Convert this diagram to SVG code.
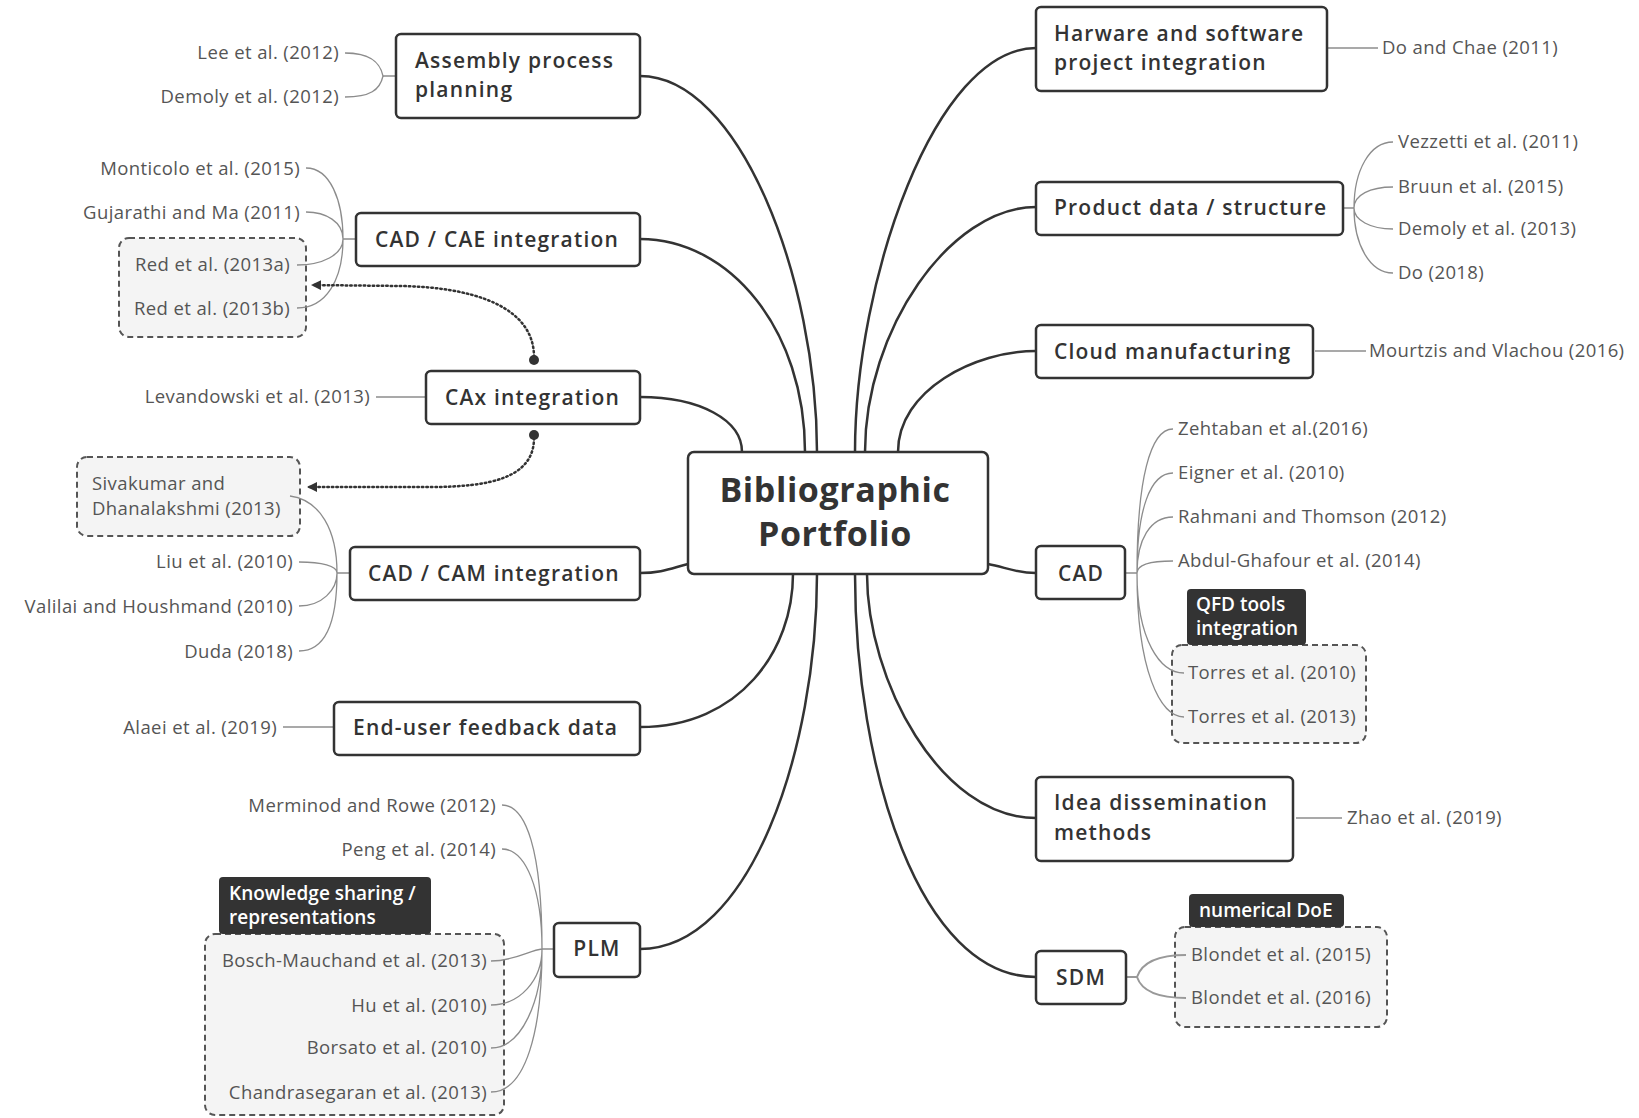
<svg xmlns="http://www.w3.org/2000/svg" width="1639" height="1118" viewBox="0 0 1639 1118">
<style>
.node rect{fill:#fff;stroke:#333;stroke-width:2.5}
.nt{font-family:"Open Sans","Liberation Sans",sans-serif;font-weight:600;font-size:21px;fill:#333;letter-spacing:1.2px}
.ct{font-family:"Open Sans","Liberation Sans",sans-serif;font-weight:700;font-size:34px;fill:#333;text-anchor:middle;letter-spacing:0.6px}
.ref{font-family:"Open Sans","Liberation Sans",sans-serif;font-size:18.5px;fill:#555;letter-spacing:0.4px}
.end{text-anchor:end}
.mid{text-anchor:middle}
.lbl{fill:#333}
.lt{font-family:"Open Sans","Liberation Sans",sans-serif;font-weight:600;font-size:19px;fill:#fff}
.dash{fill:#f4f4f4;stroke:#555;stroke-width:2;stroke-dasharray:6 4}
.main{fill:none;stroke:#333;stroke-width:2.5}
.sub{fill:none;stroke:#8c8c8c;stroke-width:1.3}
.sub2{fill:none;stroke:#999;stroke-width:2}
.dot{fill:none;stroke:#333;stroke-width:2.5;stroke-dasharray:1.5 3;stroke-linecap:round}
</style>
<defs>
<marker id="arr" viewBox="0 0 10 10" refX="9" refY="5" markerWidth="10" markerHeight="10" markerUnits="userSpaceOnUse" orient="auto">
<path d="M0,0 L10,5 L0,10 z" fill="#333"/>
</marker>
</defs>
<rect width="1639" height="1118" fill="#fff"/>

<g id="grp-red"><rect class="dash" x="119" y="238" width="187" height="99" rx="10"/></g>
<g id="grp-siva"><rect class="dash" x="77" y="457" width="223" height="79" rx="10"/></g>
<g id="grp-plm"><rect class="dash" x="205" y="934" width="299" height="181" rx="10"/>
<rect class="lbl" x="219" y="877" width="212" height="57" rx="4"/>
<text class="lt" x="229" y="900">Knowledge sharing /</text>
<text class="lt" x="229" y="924">representations</text></g>
<g id="grp-qfd"><rect class="dash" x="1172" y="645" width="194" height="98" rx="10"/>
<rect class="lbl" x="1187" y="589" width="119" height="56" rx="4"/>
<text class="lt" x="1196" y="611">QFD tools</text>
<text class="lt" x="1196" y="635">integration</text></g>
<g id="grp-doe"><rect class="dash" x="1175" y="927" width="212" height="100" rx="10"/>
<rect class="lbl" x="1189" y="894" width="155" height="33" rx="4"/>
<text class="lt" x="1199" y="917">numerical DoE</text></g>

<g id="connectors">
<path class="main" d="M640,76 C740,76 817,280 817,452"/>
<path class="main" d="M640,239 C730,239 805,330 805,452"/>
<path class="main" d="M640,397 C700,397 742,420 742,452"/>
<path class="main" d="M640,573 C662,573 672,568 688,564"/>
<path class="main" d="M640,727 C740,727 793,650 793,574"/>
<path class="main" d="M640,949 C750,949 817,750 817,574"/>
<path class="main" d="M1036,48 C935,48 855,280 855,452"/>
<path class="main" d="M1036,207 C950,207 865,330 865,452"/>
<path class="main" d="M1036,351 C975,351 898,390 898,452"/>
<path class="main" d="M988,564 C1005,567 1015,573 1036,573"/>
<path class="main" d="M1036,818 C940,818 867,680 867,574"/>
<path class="main" d="M1036,977 C920,977 855,770 855,574"/>

<path class="sub" d="M383,76 L396,76 M345,53 C370,53 380,62 383,76 M345,97 C370,97 380,90 383,76"/>
<path class="sub" d="M343,239 L356,239 M306,168 C330,168 343,200 343,239 M306,212 C326,212 343,222 343,239 M297,265 C322,265 343,255 343,239 M297,308 C326,308 343,280 343,239"/>
<path class="sub" d="M376,397 L426,397"/>
<path class="sub" d="M337,573 L350,573 M290,496 C320,500 337,530 337,573 M299,562 C322,562 337,566 337,573 M299,606 C322,606 337,590 337,573 M299,651 C326,651 337,620 337,573"/>
<path class="sub" d="M283,727 L334,727"/>
<path class="sub" d="M542,949 L554,949 M502,805 C526,805 542,850 542,949 M502,849 C526,849 542,890 542,949 M491,961 C515,961 530,950 542,949 M491,1005 C520,1005 542,980 542,949 M491,1048 C522,1048 542,1000 542,949 M491,1092 C526,1092 542,1030 542,949"/>
<path class="sub" d="M1328,48 L1378,48"/>
<path class="sub" d="M1343,208 L1354,208 M1354,208 C1354,170 1370,142 1393,142 M1354,208 C1354,195 1370,187 1393,187 M1354,208 C1354,220 1370,229 1393,229 M1354,208 C1354,245 1370,273 1393,273"/>
<path class="sub" d="M1315,351 L1366,351"/>
<path class="sub" d="M1125,573 L1137,573 M1137,573 C1137,480 1150,429 1173,429 M1137,573 C1137,510 1150,473 1173,473 M1137,573 C1137,540 1150,517 1173,517 M1137,573 C1137,565 1150,561 1173,561 M1137,573 C1137,640 1160,673 1184,673 M1137,573 C1137,670 1160,717 1184,717"/>
<path class="sub" d="M1296,818 L1342,818"/>
<path class="sub2" d="M1126,977 L1137,977 M1137,977 C1142,962 1160,955 1186,955 M1137,977 C1142,992 1160,998 1186,998"/>

<path class="dot" d="M534,357 C534,305 470,287 400,286 L312,285" marker-end="url(#arr)"/>
<path class="dot" d="M534,438 C534,478 490,487 430,487 L308,487" marker-end="url(#arr)"/>
<circle cx="534" cy="360" r="5" fill="#333"/>
<circle cx="534" cy="435" r="5" fill="#333"/>
</g>

<g id="central" class="node"><rect x="688" y="452" width="300" height="122" rx="6"/>
<text class="ct" x="835" y="502">Bibliographic</text>
<text class="ct" x="835" y="546">Portfolio</text></g>

<g id="n-assembly" class="node"><rect x="396" y="34" width="244" height="84" rx="5"/>
<text class="nt" x="415" y="68">Assembly process</text>
<text class="nt" x="415" y="97">planning</text></g>
<g id="n-cadcae" class="node"><rect x="356" y="213" width="284" height="53" rx="5"/>
<text class="nt" x="375" y="247">CAD / CAE integration</text></g>
<g id="n-cax" class="node"><rect x="426" y="371" width="214" height="53" rx="5"/>
<text class="nt" x="445" y="405">CAx integration</text></g>
<g id="n-cadcam" class="node"><rect x="350" y="547" width="290" height="53" rx="5"/>
<text class="nt" x="368" y="581">CAD / CAM integration</text></g>
<g id="n-enduser" class="node"><rect x="334" y="702" width="306" height="53" rx="5"/>
<text class="nt" x="353" y="735">End-user feedback data</text></g>
<g id="n-plm" class="node"><rect x="554" y="923" width="86" height="54" rx="5"/>
<text class="nt mid" x="597" y="956">PLM</text></g>

<g id="n-harware" class="node"><rect x="1036" y="7" width="291" height="84" rx="5"/>
<text class="nt" x="1054" y="41">Harware and software</text>
<text class="nt" x="1054" y="70">project integration</text></g>
<g id="n-product" class="node"><rect x="1036" y="182" width="307" height="53" rx="5"/>
<text class="nt" x="1054" y="215">Product data / structure</text></g>
<g id="n-cloud" class="node"><rect x="1036" y="325" width="277" height="53" rx="5"/>
<text class="nt" x="1054" y="359">Cloud manufacturing</text></g>
<g id="n-cad" class="node"><rect x="1036" y="546" width="89" height="53" rx="5"/>
<text class="nt mid" x="1081" y="581">CAD</text></g>
<g id="n-idea" class="node"><rect x="1036" y="777" width="257" height="84" rx="5"/>
<text class="nt" x="1054" y="810">Idea dissemination</text>
<text class="nt" x="1054" y="840">methods</text></g>
<g id="n-sdm" class="node"><rect x="1036" y="951" width="90" height="53" rx="5"/>
<text class="nt mid" x="1081" y="985">SDM</text></g>

<g id="refs-left">
<g id="r-lee"><text class="ref end" x="339" y="59">Lee et al. (2012)</text></g>
<g id="r-demoly12"><text class="ref end" x="339" y="103">Demoly et al. (2012)</text></g>
<g id="r-monticolo"><text class="ref end" x="300" y="175">Monticolo et al. (2015)</text></g>
<g id="r-gujarathi"><text class="ref end" x="300" y="219">Gujarathi and Ma (2011)</text></g>
<g id="r-reda"><text class="ref end" x="290" y="271">Red et al. (2013a)</text></g>
<g id="r-redb"><text class="ref end" x="290" y="315">Red et al. (2013b)</text></g>
<g id="r-levandowski"><text class="ref end" x="370" y="403">Levandowski et al. (2013)</text></g>
<g id="r-siva"><text class="ref" x="92" y="490">Sivakumar and</text><text class="ref" x="92" y="515">Dhanalakshmi (2013)</text></g>
<g id="r-liu"><text class="ref end" x="293" y="568">Liu et al. (2010)</text></g>
<g id="r-valilai"><text class="ref end" x="293" y="613">Valilai and Houshmand (2010)</text></g>
<g id="r-duda"><text class="ref end" x="293" y="658">Duda (2018)</text></g>
<g id="r-alaei"><text class="ref end" x="277" y="734">Alaei et al. (2019)</text></g>
<g id="r-merminod"><text class="ref end" x="496" y="812">Merminod and Rowe (2012)</text></g>
<g id="r-peng"><text class="ref end" x="496" y="856">Peng et al. (2014)</text></g>
<g id="r-bosch"><text class="ref end" x="487" y="967">Bosch-Mauchand et al. (2013)</text></g>
<g id="r-hu"><text class="ref end" x="487" y="1012">Hu et al. (2010)</text></g>
<g id="r-borsato"><text class="ref end" x="487" y="1054">Borsato et al. (2010)</text></g>
<g id="r-chandra"><text class="ref end" x="487" y="1099">Chandrasegaran et al. (2013)</text></g>
</g>
<g id="refs-right">
<g id="r-dochae"><text class="ref" x="1382" y="54">Do and Chae (2011)</text></g>
<g id="r-vezzetti"><text class="ref" x="1398" y="148">Vezzetti et al. (2011)</text></g>
<g id="r-bruun"><text class="ref" x="1398" y="193">Bruun et al. (2015)</text></g>
<g id="r-demoly13"><text class="ref" x="1398" y="235">Demoly et al. (2013)</text></g>
<g id="r-do18"><text class="ref" x="1398" y="279">Do (2018)</text></g>
<g id="r-mourtzis"><text class="ref" x="1369" y="357">Mourtzis and Vlachou (2016)</text></g>
<g id="r-zehtaban"><text class="ref" x="1178" y="435">Zehtaban et al.(2016)</text></g>
<g id="r-eigner"><text class="ref" x="1178" y="479">Eigner et al. (2010)</text></g>
<g id="r-rahmani"><text class="ref" x="1178" y="523">Rahmani and Thomson (2012)</text></g>
<g id="r-abdul"><text class="ref" x="1178" y="567">Abdul-Ghafour et al. (2014)</text></g>
<g id="r-torres10"><text class="ref" x="1188" y="679">Torres et al. (2010)</text></g>
<g id="r-torres13"><text class="ref" x="1188" y="723">Torres et al. (2013)</text></g>
<g id="r-zhao"><text class="ref" x="1347" y="824">Zhao et al. (2019)</text></g>
<g id="r-blondet15"><text class="ref" x="1191" y="961">Blondet et al. (2015)</text></g>
<g id="r-blondet16"><text class="ref" x="1191" y="1004">Blondet et al. (2016)</text></g>
</g>
</svg>
